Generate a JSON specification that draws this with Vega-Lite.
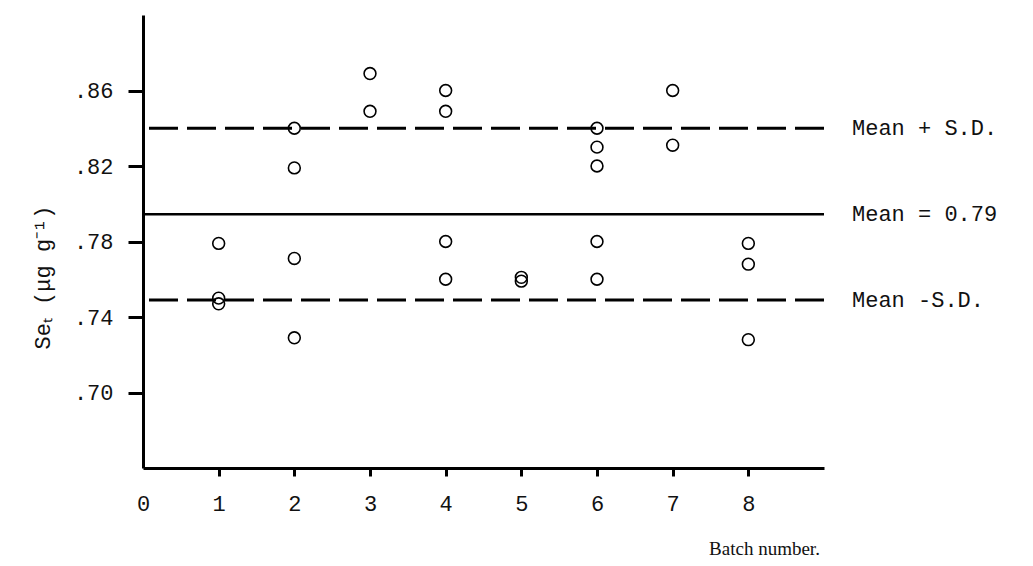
{
  "$schema": "https://vega.github.io/schema/vega-lite/v6.json",
  "autosize": "none",
  "width": 681,
  "height": 453,
  "padding": {"left": 143, "top": 15, "right": 209, "bottom": 98},
  "background": "white",
  "config": {
    "view": {"stroke": null},
    "font": "Liberation Mono"
  },
  "datasets": {
    "points": [
      {"batch": 1, "se": 0.779}, {"batch": 1, "se": 0.750}, {"batch": 1, "se": 0.747},
      {"batch": 2, "se": 0.840}, {"batch": 2, "se": 0.819}, {"batch": 2, "se": 0.771}, {"batch": 2, "se": 0.729},
      {"batch": 3, "se": 0.869}, {"batch": 3, "se": 0.849},
      {"batch": 4, "se": 0.860}, {"batch": 4, "se": 0.849}, {"batch": 4, "se": 0.780}, {"batch": 4, "se": 0.760},
      {"batch": 5, "se": 0.761}, {"batch": 5, "se": 0.759},
      {"batch": 6, "se": 0.840}, {"batch": 6, "se": 0.830}, {"batch": 6, "se": 0.820}, {"batch": 6, "se": 0.780}, {"batch": 6, "se": 0.760},
      {"batch": 7, "se": 0.860}, {"batch": 7, "se": 0.831},
      {"batch": 8, "se": 0.779}, {"batch": 8, "se": 0.768}, {"batch": 8, "se": 0.728}
    ],
    "lines": [
      {"value": 0.840, "label": "Mean + S.D.", "kind": "dashed"},
      {"value": 0.7945, "label": "Mean = 0.79", "kind": "solid"},
      {"value": 0.7490, "label": "Mean -S.D.", "kind": "dashed"}
    ]
  },
  "layer": [
    {
      "data": {"name": "lines"},
      "transform": [{"filter": "datum.kind === 'dashed'"}],
      "mark": {"type": "rule", "color": "black", "strokeWidth": 3, "strokeDash": [29, 9]},
      "encoding": {
        "y": {"field": "value", "type": "quantitative", "scale": {"domain": [0.66, 0.9]}}
      }
    },
    {
      "data": {"name": "lines"},
      "transform": [{"filter": "datum.kind === 'solid'"}],
      "mark": {"type": "rule", "color": "black", "strokeWidth": 2.5},
      "encoding": {
        "y": {"field": "value", "type": "quantitative"}
      }
    },
    {
      "data": {"name": "lines"},
      "mark": {"type": "text", "align": "left", "baseline": "middle", "dx": 28, "fontSize": 22, "font": "Liberation Mono", "color": "#111", "clip": false},
      "encoding": {
        "x": {"datum": 9, "type": "quantitative"},
        "y": {"field": "value", "type": "quantitative"},
        "text": {"field": "label"}
      }
    },
    {
      "data": {"name": "points"},
      "mark": {"type": "point", "shape": "circle", "filled": false, "size": 140, "strokeWidth": 1.6, "color": "black", "opacity": 1},
      "encoding": {
        "x": {
          "field": "batch", "type": "quantitative",
          "scale": {"domain": [0, 9], "nice": false, "zero": false},
          "axis": {
            "values": [0, 1, 2, 3, 4, 5, 6, 7, 8],
            "format": "d",
            "grid": false,
            "domainColor": "black", "domainWidth": 3,
            "tickColor": "black", "tickWidth": 3, "tickSize": 8,
            "tickOpacity": {"condition": {"test": "datum.value === 0", "value": 0}, "value": 1},
            "labelFont": "Liberation Mono", "labelFontSize": 22, "labelColor": "#111",
            "labelPadding": 17, "labelFlush": false,
            "title": "Batch number.",
            "titleFont": "Liberation Serif", "titleFontSize": 19, "titleFontWeight": "normal", "titleColor": "#111",
            "titleX": 621, "titleY": 80, "titleAlign": "center", "titleBaseline": "middle"
          }
        },
        "y": {
          "field": "se", "type": "quantitative",
          "scale": {"domain": [0.66, 0.9], "nice": false, "zero": false},
          "axis": {
            "values": [0.70, 0.74, 0.78, 0.82, 0.86],
            "labelExpr": "substring(format(datum.value, '.2f'), 1)",
            "grid": false,
            "domainColor": "black", "domainWidth": 3,
            "tickColor": "black", "tickWidth": 3, "tickSize": 15,
            "labelFont": "Liberation Mono", "labelFontSize": 22, "labelColor": "#111",
            "labelPadding": 15, "labelFlush": false,
            "title": "Seₜ (μg g⁻¹)",
            "titleFont": "Liberation Mono", "titleFontSize": 22, "titleFontWeight": "normal", "titleColor": "#111",
            "titleX": -101, "titleY": 262, "titleAngle": -90, "titleAlign": "center", "titleBaseline": "middle"
          }
        }
      }
    }
  ]
}
